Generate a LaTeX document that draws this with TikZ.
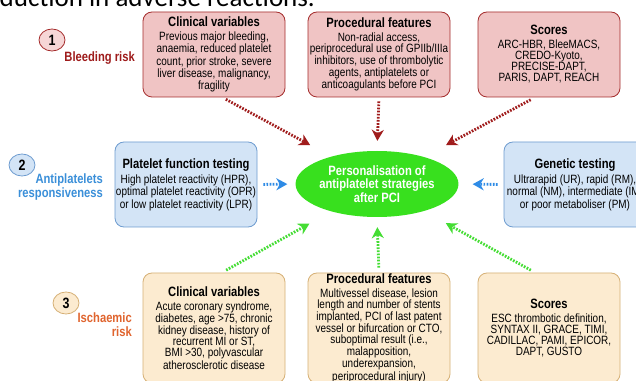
\documentclass[tikz,border=0pt]{standalone}
\usepackage{fontspec}
\setmainfont{Liberation Sans}
\newfontfamily\condfont[FakeStretch=0.83]{Liberation Sans}
\newfontfamily\topfont{Carlito}
\usetikzlibrary{arrows.meta,shapes.geometric}
\definecolor{redfill}{RGB}{240,196,196}
\definecolor{redline}{RGB}{165,45,45}
\definecolor{redarr}{RGB}{160,28,28}
\definecolor{redlab}{RGB}{158,27,27}
\definecolor{circred}{RGB}{246,214,214}
\definecolor{bluefill}{RGB}{211,228,246}
\definecolor{blueline}{RGB}{110,156,208}
\definecolor{bluearr}{RGB}{46,139,230}
\definecolor{bluelab}{RGB}{58,143,217}
\definecolor{orfill}{RGB}{252,235,208}
\definecolor{orline}{RGB}{214,176,118}
\definecolor{orlab}{RGB}{224,100,46}
\definecolor{greenfill}{RGB}{56,224,30}
\definecolor{greenarr}{RGB}{68,221,51}
\newcommand\bodyf{\condfont\fontsize{12}{11}\selectfont}
\newcommand\ttl[1]{{\condfont\bfseries\fontsize{13.5}{11}\selectfont #1}}
\tikzset{
  box/.style={rounded corners=9pt, line width=0.8pt, minimum width=142pt,
    minimum height=85pt, align=center, inner sep=0pt, font=\bodyf},
  redbox/.style={box, draw=redline, fill=redfill},
  bluebox/.style={box, draw=blueline, fill=bluefill},
  orbox/.style={box, draw=orline, fill=orfill, minimum height=110pt},
  numcirc/.style={ellipse, line width=0.8pt, minimum width=26pt, minimum height=22pt,
    inner sep=0pt, font=\condfont\bfseries\fontsize{15}{15}\selectfont},
  lab/.style={align=right, inner sep=0pt, font=\condfont\bfseries\fontsize{13.5}{14}\selectfont},
  arr/.style={line width=2.8pt, dash pattern=on 1.7pt off 1.4pt,
    -{Stealth[length=11pt,width=12pt,inset=3.5pt]}},
  rarr/.style={arr, draw=redarr, color=redarr},
  barr/.style={arr, draw=bluearr, color=bluearr},
  garr/.style={arr, draw=greenarr, color=greenarr},
}
\begin{document}
\begin{tikzpicture}[x=1pt,y=1pt]
\useasboundingbox (0,0) rectangle (636,380);
\clip (0,0) rectangle (636,380);
\fill[white] (0,0) rectangle (636,380);

\node[anchor=base east, inner sep=0pt, font=\topfont\fontsize{27}{27}\selectfont] (top) at (315,373) {duction in adverse reactions.};

% red row
\node[redbox] (rc) at (214,325.5) {\ttl{Clinical variables}\\[3pt]
  Previous major bleeding,\\ anaemia, reduced platelet\\ count, prior stroke, severe\\
  liver disease, malignancy,\\ fragility};
\node[redbox] (rp) at (379,325.5) {\ttl{Procedural features}\\[3pt]
  Non-radial access,\\ periprocedural use of GPIIb/IIIa\\ inhibitors, use of thrombolytic\\
  agents, antiplatelets or\\ anticoagulants before PCI};
\node[redbox] (rs) at (549,325.5) {\ttl{Scores}\\[3pt]
  ARC-HBR, BleeMACS,\\ CREDO-Kyoto,\\ PRECISE-DAPT,\\ PARIS, DAPT, REACH};

% blue row
\node[bluebox] (bp) at (186,195.5) {\ttl{Platelet function testing}\\[3pt]
  High platelet reactivity (HPR),\\ optimal platelet reactivity (OPR)\\ or low platelet reactivity (LPR)};
\node[bluebox] (bg) at (575,195.5) {\ttl{Genetic testing}\\[3pt]
  Ultrarapid (UR), rapid (RM),\\ normal (NM), intermediate (IM)\\ or poor metaboliser (PM)};

% orange row
\node[orbox] (oc) at (214,52) {\ttl{Clinical variables}\\[3pt]
  Acute coronary syndrome,\\ diabetes, age >75, chronic\\ kidney disease, history of\\
  recurrent MI or ST,\\ BMI >30, polyvascular\\ atherosclerotic disease};
\node[orbox] (op) at (379,52) {\ttl{Procedural features}\\[3pt]
  Multivessel disease, lesion\\ length and number of stents\\ implanted, PCI of last patent\\
  vessel or bifurcation or CTO,\\ suboptimal result (i.e.,\\ malapposition,\\
  underexpansion,\\ periprocedural injury)};
\node[orbox] (os) at (549,52) {\ttl{Scores}\\[3pt]
  ESC thrombotic definition,\\ SYNTAX II, GRACE, TIMI,\\ CADILLAC, PAMI, EPICOR,\\ DAPT, GUSTO};

% centre
\node[ellipse, fill=greenfill, minimum width=122pt, minimum height=66pt, inner sep=0pt,
  align=center, text=white, font=\condfont\bfseries\fontsize{13.5}{13.5}\selectfont] (pers) at (377,196)
  {Personalisation of\\ antiplatelet strategies\\ after PCI};

% numbers and labels
\node[numcirc, draw=redline, fill=circred] (n1) at (52,340) {1};
\node[lab, text=redlab, anchor=east] (l1) at (135,322) {Bleeding risk};
\node[numcirc, draw=blueline, fill=bluefill] (n2) at (22,215) {2};
\node[lab, text=bluelab, anchor=east] (l2) at (103,192.5) {Antiplatelets\\ responsiveness};
\node[numcirc, draw=orline, fill=orfill] (n3) at (66,77) {3};
\node[lab, text=orlab, anchor=east] (l3) at (132,55.5) {Ischaemic\\ risk};

% arrows
\draw[rarr, shorten <=4pt, shorten >=24pt] (rc.-79) -- (pers.149);
\draw[rarr, shorten <=4pt, shorten >=10pt] (rp.south) -- (pers.north);
\draw[rarr, shorten <=5pt, shorten >=25pt] (rs.-108) -- (pers.30);
\draw[barr, shorten <=6pt, shorten >=8pt] (bp.east) -- (pers.west);
\draw[barr, shorten <=6pt, shorten >=14pt] (bg.west) -- (pers.east);
\draw[garr, shorten <=5pt, shorten >=25pt] (oc.82) -- (pers.-149);
\draw[garr, shorten <=5pt, shorten >=10pt] (op.north) -- (pers.south);
\draw[garr, shorten <=5pt, shorten >=25pt] (os.104) -- (pers.-30);
\end{tikzpicture}
\end{document}
